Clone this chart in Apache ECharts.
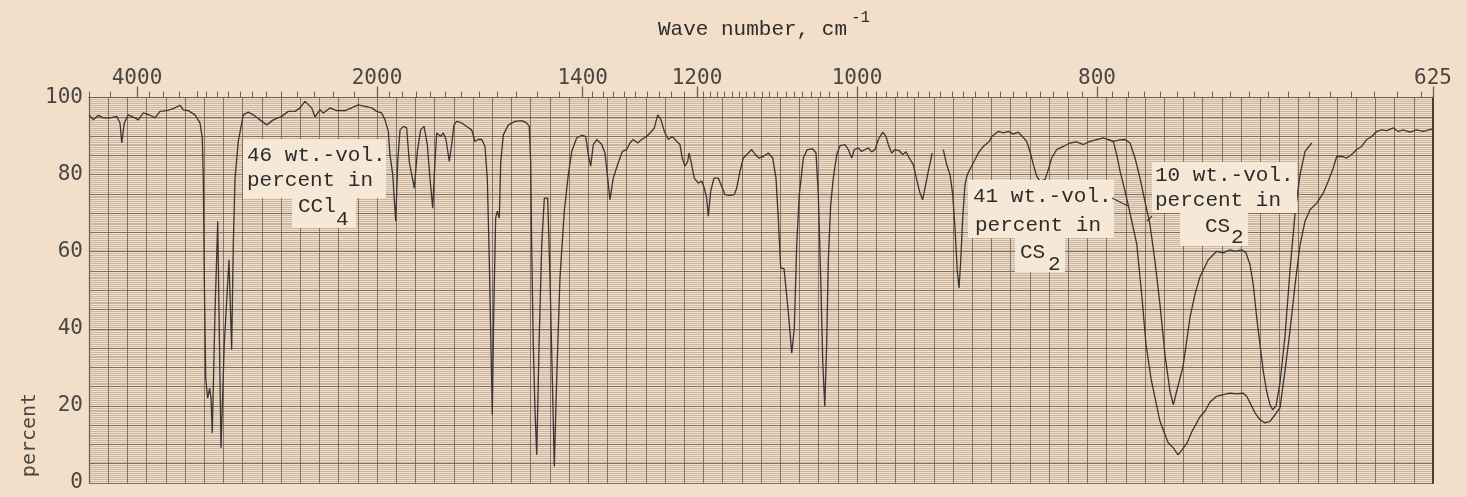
<!DOCTYPE html>
<html>
<head>
<meta charset="utf-8">
<title>Spectrum</title>
<script src="https://cdn.jsdelivr.net/npm/echarts@6/dist/echarts.min.js"></script>
<style>
    html, body { margin: 0; padding: 0; background: #f1dfc9; }
    #chart { width: 1467px; height: 497px; }
</style>
</head>
<body>
<div id="chart"></div>
<script>
// wavelength in micron (the paper is linear in it) and percent transmission
var ccl4Um = [2.000, 2.045, 2.097, 2.149, 2.219, 2.289, 2.323, 2.341, 2.368, 2.409, 2.461, 2.514, 2.566, 2.635, 2.688, 2.740, 2.809, 2.878, 2.948, 2.982,
    3.034, 3.104, 3.156, 3.180, 3.191, 3.201, 3.216, 3.236, 3.257, 3.271, 3.284, 3.313, 3.341, 3.354, 3.375, 3.409, 3.458, 3.486, 3.503, 3.521,
    3.555, 3.607, 3.659, 3.711, 3.781, 3.851, 3.920, 4.007, 4.076, 4.146, 4.198, 4.250, 4.320, 4.354, 4.406, 4.441, 4.510, 4.580, 4.667, 4.736,
    4.805, 4.875, 4.945, 4.997, 5.049, 5.083, 5.118, 5.135, 5.164, 5.195, 5.216, 5.240, 5.274, 5.309, 5.336, 5.361, 5.389, 5.420, 5.455, 5.490,
    5.524, 5.552, 5.580, 5.604, 5.622, 5.664, 5.691, 5.719, 5.753, 5.778, 5.802, 5.830, 5.882, 5.934, 5.986, 6.021, 6.055, 6.091, 6.125, 6.149,
    6.170, 6.188, 6.201, 6.216, 6.236, 6.253, 6.274, 6.289, 6.316, 6.368, 6.438, 6.507, 6.559, 6.586, 6.601, 6.611, 6.628, 6.646, 6.664, 6.688,
    6.716, 6.743, 6.778, 6.802, 6.826, 6.847, 6.872, 6.906, 6.951, 6.993, 7.028, 7.080, 7.132, 7.174, 7.201, 7.226, 7.253, 7.289, 7.341, 7.375,
    7.403, 7.427, 7.461, 7.507, 7.555, 7.601, 7.635, 7.670, 7.716, 7.757, 7.809, 7.844, 7.889, 7.924, 7.958, 7.993, 8.034, 8.076, 8.122, 8.156,
    8.180, 8.208, 8.236, 8.250, 8.271, 8.305, 8.347, 8.382, 8.409, 8.434, 8.451, 8.476, 8.510, 8.555, 8.597, 8.625, 8.677, 8.722, 8.747, 8.781,
    8.816, 8.868, 8.903, 8.938, 8.979, 9.024, 9.076, 9.122, 9.156, 9.180, 9.205, 9.240, 9.260, 9.284, 9.320, 9.347, 9.372, 9.399, 9.441, 9.482,
    9.538, 9.573, 9.597, 9.622, 9.643, 9.664, 9.684, 9.701, 9.726, 9.753, 9.789, 9.823, 9.875, 9.909, 9.945, 9.972, 10.014, 10.049, 10.083, 10.118,
    10.153, 10.188, 10.222, 10.268, 10.302, 10.326, 10.361, 10.396, 10.441, 10.476, 10.510, 10.545, 10.586, 10.622, 10.656, 10.684, 10.708, 10.743, 10.784];
var ccl4Pct = [95.5, 94.2, 95.4, 94.7, 94.7, 95.1, 93.4, 88.2, 93.4, 95.5, 94.9, 94.2, 96.0, 95.4, 94.7, 96.4, 96.6, 97.1, 98.0, 96.8,
    96.6, 95.5, 93.4, 89.5, 79.0, 53.0, 27.0, 22.0, 24.6, 22.0, 13.0, 44.6, 67.9, 44.6, 9.1, 35.9, 57.9, 34.6, 61.8, 79.0,
    88.6, 95.5, 96.2, 95.5, 94.2, 92.9, 94.2, 95.1, 96.4, 96.4, 97.3, 99.0, 97.3, 95.0, 96.8, 96.0, 97.3, 96.6, 96.6, 97.3,
    98.1, 97.7, 97.3, 96.4, 96.0, 94.2, 91.2, 85.2, 80.0, 67.9, 83.4, 91.6, 92.5, 92.1, 83.4, 80.0, 76.5, 86.0, 91.6, 92.5,
    87.8, 79.0, 71.3, 83.4, 90.8, 89.9, 90.8, 89.1, 83.4, 87.8, 92.9, 93.8, 93.4, 92.5, 91.6, 88.6, 89.1, 89.1, 87.3, 79.0,
    57.5, 34.2, 17.7, 44.5, 68.7, 70.5, 68.7, 83.4, 90.3, 92.9, 93.8, 94.0, 93.4, 92.5, 83.4, 61.8, 35.9, 18.6, 7.3, 35.9,
    61.8, 73.9, 73.9, 53.2, 27.2, 4.3, 27.2, 53.2, 70.5, 80.0, 86.0, 89.5, 90.2, 89.9, 85.2, 82.2, 87.8, 89.1, 87.8, 85.6,
    79.1, 73.5, 79.1, 82.6, 86.0, 86.5, 88.2, 89.1, 88.2, 89.1, 89.9, 90.8, 92.1, 95.5, 94.2, 91.2, 89.1, 89.9, 88.6, 87.8,
    84.3, 82.2, 83.4, 85.6, 83.4, 79.1, 77.8, 78.3, 76.5, 73.9, 69.2, 75.7, 79.1, 79.1, 76.5, 74.8, 74.6, 74.8, 76.5, 80.9,
    84.3, 85.6, 86.5, 85.3, 84.3, 84.7, 85.6, 84.3, 79.1, 68.7, 55.8, 55.6, 55.3, 44.5, 33.7, 40.2, 61.8, 74.8, 84.3, 86.5,
    86.7, 85.6, 74.8, 53.2, 31.6, 19.9, 35.9, 57.5, 72.2, 79.1, 85.2, 87.5, 87.8, 86.5, 84.3, 86.5, 86.9, 86.0, 86.5, 86.9,
    85.9, 86.5, 89.1, 91.0, 89.9, 87.8, 85.6, 86.5, 86.2, 85.2, 85.9, 84.3, 82.6, 78.7, 75.2, 73.5, 76.5, 80.9, 85.6];

var cs2Um = [10.899, 10.934, 10.969, 10.997, 11.021, 11.045, 11.063, 11.080, 11.101, 11.125, 11.149, 11.184, 11.219, 11.264, 11.316, 11.378, 11.403, 11.472, 11.524, 11.576,
    11.628, 11.680, 11.722, 11.768, 11.802, 11.837, 11.872, 11.906, 11.958, 11.993, 12.028, 12.080, 12.149, 12.219, 12.288, 12.357, 12.427, 12.497, 12.566, 12.618,
    12.670, 12.705, 12.740, 12.792, 12.826, 12.914, 12.969, 13.010, 13.063, 13.156, 13.240, 13.295, 13.344, 13.385, 13.438, 13.490, 13.573, 13.625, 13.677, 13.747,
    13.816, 13.885, 13.955, 14.024, 14.059, 14.094, 14.146, 14.198, 14.250, 14.302, 14.354, 14.406, 14.458, 14.510, 14.563, 14.615, 14.667, 14.719, 14.789, 14.857,
    14.909, 14.961, 14.997, 15.049, 15.101, 15.153, 15.205, 15.257, 15.309, 15.361, 15.413, 15.466, 15.518, 15.586, 15.638, 15.690, 15.760, 15.830, 15.899, 15.986, 16.000];
var cs2Pct = [86.5, 82.6, 80.0, 74.8, 66.1, 54.9, 50.6, 57.5, 68.7, 77.4, 80.0, 81.7, 83.4, 85.6, 87.3, 88.6, 89.9, 91.2, 90.8, 91.2,
    90.5, 91.0, 89.9, 88.6, 86.0, 82.6, 79.6, 78.3, 78.7, 81.3, 84.3, 86.5, 87.3, 88.2, 88.5, 87.8, 88.6, 89.1, 89.5, 89.1,
    88.6, 85.2, 80.9, 75.7, 72.0, 62.0, 48.0, 36.0, 27.0, 16.0, 10.5, 9.1, 7.3, 8.6, 10.4, 13.4, 17.2, 18.6, 21.0, 22.5,
    22.9, 23.3, 23.1, 23.3, 22.5, 20.8, 18.2, 16.4, 15.6, 16.0, 17.7, 19.5, 29.0, 39.4, 51.4, 61.8, 67.9, 70.9, 72.6, 75.2,
    78.3, 81.7, 84.7, 84.7, 84.3, 85.2, 86.5, 87.3, 89.1, 89.9, 91.2, 91.6, 91.4, 92.1, 91.2, 91.6, 91.0, 91.6, 91.2, 91.8, 91.5];

var cs2DiluteUm = [12.618, 12.670, 12.740, 12.792, 12.844, 12.896, 12.948, 13.000, 13.052, 13.104, 13.156, 13.208, 13.260, 13.295, 13.330, 13.396, 13.469, 13.521, 13.573, 13.659,
    13.747, 13.816, 13.885, 13.938, 14.007, 14.052, 14.094, 14.128, 14.164, 14.198, 14.232, 14.267, 14.302, 14.330, 14.365, 14.406, 14.458, 14.510, 14.563, 14.615, 14.667, 14.737];
var cs2DilutePct = [89.1, 88.6, 89.0, 89.1, 88.2, 84.3, 79.1, 73.0, 67.0, 57.5, 46.3, 33.3, 23.8, 20.3, 23.8, 30.2, 43.0, 49.0, 53.5, 57.9,
    60.1, 59.7, 60.5, 60.1, 60.5, 59.7, 56.6, 51.4, 42.8, 35.9, 29.0, 23.8, 20.3, 19.0, 20.0, 26.0, 38.0, 55.0, 70.0, 80.0, 86.0, 88.2];

// top scale, in wave numbers
var labelWaveNumbers = [4000, 2000, 1400, 1200, 1000, 800, 625];
var tickRanges = [[5000, 4000, 500], [4000, 3200, 200], [3200, 2000, 100], [2000, 1400, 50], [1400, 1200, 20], [1200, 630, 10]];
var percentLabels = [0, 20, 40, 60, 80, 100];

(function(window, echarts) {
    var ink = "#3a3633",
        gridDark = "#6b5d51",
        gridLight = "#9a8877",
        paper = "#f1dfc9",
        boxFill = "#f5e8d7",
        monoFont = "'Liberation Mono', 'DejaVu Sans Mono', monospace",
        scaleFont = "'DejaVu Sans Mono', 'Liberation Mono', monospace";

    // three grids on the same rect: paper grid, small ticks, labelled ticks
    function plotBox() {
        return { left: 89, right: 34, top: 97.5, bottom: 14 };
    }

    function zip(xs, ys) {
        return xs.map(function(v, i) {
            return [v, ys[i]];
        });
    }

    function toUm(wn) {
        return 1e4 / wn;
    }

    var tickUm = [];
    tickRanges.forEach(function(r) {
        for (var w = r[0]; w >= r[1]; w -= r[2]) {
            tickUm.push(toUm(w));
        }
    });
    tickUm.push(toUm(625));
    var labelUm = labelWaveNumbers.map(toUm);

    function line(data, name) {
        return {
            name: name,
            type: "line",
            data: data,
            showSymbol: false,
            symbol: "none",
            smooth: false,
            animation: false,
            z: 5,
            lineStyle: { color: ink, width: 1.3 }
        };
    }

    // x / y is the middle of the text
    function textEl(x, y, str, size, font) {
        return {
            type: "text",
            x: x,
            y: y,
            z: 20,
            style: {
                text: str,
                fill: "#2e2b29",
                font: size + "px " + font,
                align: "left",
                verticalAlign: "middle"
            }
        };
    }

    function box(x, y, w, h) {
        return {
            type: "rect",
            z: 15,
            shape: { x: x, y: y, width: w, height: h },
            style: { fill: boxFill }
        };
    }

    function leader(x1, y1, x2, y2) {
        return {
            type: "line",
            z: 16,
            shape: { x1: x1, y1: y1, x2: x2, y2: y2 },
            style: { stroke: ink, lineWidth: 1.2 }
        };
    }

    function hiddenY(idx) {
        return { gridIndex: idx, type: "value", min: 0, max: 100, show: false };
    }

    var chart = echarts.init(document.getElementById("chart"), null, { renderer: "canvas" });

    var option = {
        backgroundColor: paper,
        animation: false,
        grid: [plotBox(), plotBox(), plotBox()],
        xAxis: [{
            gridIndex: 0, type: "value", min: 2, max: 16, interval: 0.2, position: "top",
            axisLine: { show: true, onZero: false, lineStyle: { color: gridDark, width: 1.2 } },
            axisTick: { show: false },
            axisLabel: { show: false },
            splitLine: { show: true, lineStyle: { color: gridDark, width: 1, opacity: 0.8 } }
        }, {
            gridIndex: 1, type: "value", min: 2, max: 16, position: "top",
            axisLine: { show: false, onZero: false },
            axisTick: { show: true, customValues: tickUm, length: 6, lineStyle: { color: gridDark } },
            axisLabel: { show: false },
            splitLine: { show: false }
        }, {
            gridIndex: 2, type: "value", min: 2, max: 16, position: "top",
            axisLine: { show: false, onZero: false },
            axisTick: { show: true, customValues: labelUm, length: 11, lineStyle: { color: gridDark, width: 1.3 } },
            axisLabel: {
                show: true,
                customValues: labelUm,
                margin: 8,
                color: "#4a4643",
                fontSize: 21,
                fontFamily: scaleFont,
                formatter: function(v) {
                    return String(Math.round(1e4 / v));
                }
            },
            splitLine: { show: false }
        }],
        yAxis: [{
            gridIndex: 0, type: "value", min: 0, max: 100, interval: 5,
            axisLine: { show: true, onZero: false, lineStyle: { color: gridDark, width: 1.2 } },
            axisTick: { show: false },
            axisLabel: {
                margin: 6,
                color: "#4a4643",
                fontSize: 21,
                fontFamily: scaleFont,
                formatter: function(v) {
                    return percentLabels.indexOf(v) >= 0 ? String(v) : "";
                }
            },
            splitLine: { show: true, lineStyle: { color: gridDark, width: 1, opacity: 0.85 } },
            minorTick: { show: false, splitNumber: 10 },
            minorSplitLine: { show: true, lineStyle: { color: gridLight, width: 1, opacity: 0.45 } }
        }, {
            gridIndex: 0, type: "value", min: 0, max: 100, position: "right",
            axisLine: { show: true, onZero: false, lineStyle: { color: "#4a3f37", width: 2 } },
            axisTick: { show: false },
            axisLabel: { show: false },
            splitLine: { show: false }
        }, hiddenY(1), hiddenY(2)],
        series: [
            line(zip(ccl4Um, ccl4Pct), "46 wt.-vol. percent in CCl4"),
            line(zip(cs2Um, cs2Pct), "41 wt.-vol. percent in CS2"),
            line(zip(cs2DiluteUm, cs2DilutePct), "10 wt.-vol. percent in CS2")
        ],
        graphic: [
            textEl(658, 29, "Wave number, cm", 21, monoFont),
            textEl(851, 18, "-1", 16, monoFont),
            {
                type: "text",
                x: 30,
                y: 435,
                rotation: Math.PI / 2,
                z: 20,
                style: { text: "percent", fill: "#4a4643", font: "20px " + scaleFont, align: "center", verticalAlign: "middle" }
            },
            box(243, 139, 143, 59), box(292, 196, 64, 32),
            textEl(247, 155, "46 wt.-vol.", 21, monoFont),
            textEl(247, 180, "percent in", 21, monoFont),
            textEl(298, 206, "CCl", 21, monoFont),
            textEl(336, 219, "4", 21, monoFont),
            box(968, 180, 146, 58), box(1015, 237, 50, 35),
            textEl(973, 196, "41 wt.-vol.", 21, monoFont),
            textEl(975, 225, "percent in", 21, monoFont),
            textEl(1020, 252, "CS", 21, monoFont),
            textEl(1048, 264, "2", 21, monoFont),
            leader(1112, 198, 1128, 206),
            box(1152, 162, 145, 51), box(1180, 212, 68, 34),
            textEl(1155, 175, "10 wt.-vol.", 21, monoFont),
            textEl(1155, 200, "percent in", 21, monoFont),
            textEl(1205, 226, "CS", 21, monoFont),
            textEl(1231, 237, "2", 21, monoFont),
            leader(1147, 221, 1152, 216)
        ]
    };

    chart.setOption(option);
    window.chart = chart;
})(window, echarts);
</script>
</body>
</html>
